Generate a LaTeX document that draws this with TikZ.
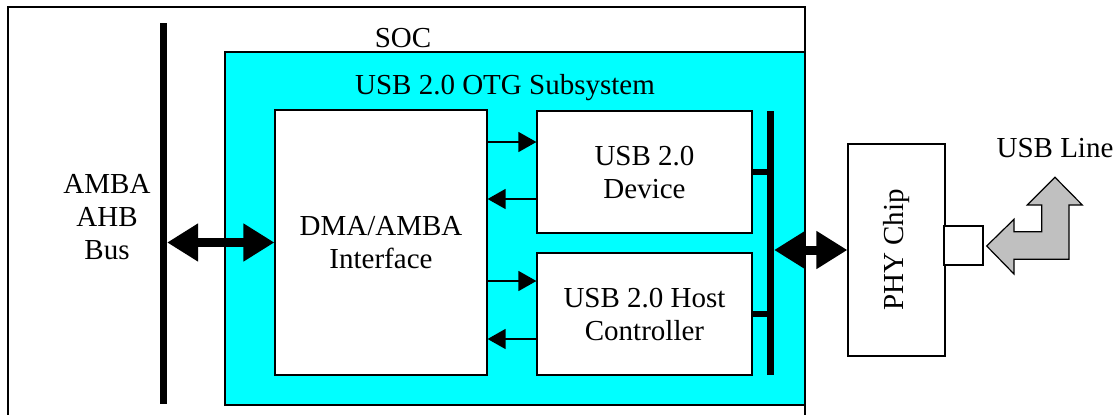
\documentclass[tikz,border=0pt]{standalone}
\usepackage{fontspec}
\setmainfont{Liberation Serif}
\usetikzlibrary{arrows.meta}
\definecolor{otgcyan}{RGB}{0,255,255}
\definecolor{lightgray}{RGB}{192,192,192}

\begin{document}
\begin{tikzpicture}[x=1pt,y=-1pt,line width=1.2pt,
   font=\fontsize{29}{33}\selectfont,
   box/.style={draw,fill=white,inner sep=0pt,align=center},
   bar/.style={fill=black,inner sep=0pt,minimum width=7pt},
   arr/.style={-{Triangle[length=18pt,width=20pt]},line width=1.5pt},
   busarr/.style={{Triangle[length=31pt,width=36pt]}-{Triangle[length=31pt,width=36pt]},line width=9pt}]
   \useasboundingbox (0,0) rectangle (1120,415);
   \draw (8,415) -- (8,7) -- (805,7) -- (805,415);
   \node (soc) at (403,38) {SOC};
   \draw[fill=otgcyan] (225,52) rectangle (805,405);
   \node (otg) at (505,88) {USB 2.0 OTG Subsystem};
   \node (ahbbar) at (163,213.5) [bar,minimum height=381pt] {};
   \node (ahb) at (107,217) [align=center] {AMBA\\AHB\\Bus};
   \node (dma) at (381,242.5) [box,minimum width=212pt,minimum height=265pt] {DMA/AMBA\\Interface};
   \node (dev) at (644.5,172) [box,minimum width=215pt,minimum height=122pt] {USB 2.0\\Device};
   \node (host) at (644.5,314) [box,minimum width=215pt,minimum height=122pt] {USB 2.0 Host\\Controller};
   \node (otgbar) at (770,243) [bar,minimum height=264pt] {};
   \node (phy) at (896.5,250) [box,minimum width=97pt,minimum height=212pt] {\rotatebox{90}{PHY Chip}};
   \node (port) at (963.5,245.5) [box,minimum width=39pt,minimum height=39pt] {};
   \node (line) at (1055,148) {USB Line};
   \draw[busarr] (ahbbar.east |- dma.west) -- (dma.west);
   \draw[busarr] (otgbar.east |- phy.west) -- (phy.west);
   \draw[arr] ([yshift=30pt]dev.west -| dma.east) -- ([yshift=30pt]dev.west);
   \draw[arr] ([yshift=-27pt]dev.west) -- ([yshift=-27pt]dev.west -| dma.east);
   \draw[arr] ([yshift=33pt]host.west -| dma.east) -- ([yshift=33pt]host.west);
   \draw[arr] ([yshift=-25pt]host.west) -- ([yshift=-25pt]host.west -| dma.east);
   \draw[line width=6pt] (dev.east) -- (otgbar.center |- dev.east);
   \draw[line width=6pt] (host.east) -- (otgbar.center |- host.east);
   \draw[fill=lightgray] (986.7,246) -- (1014,219.3) -- (1014,231.7) -- (1041.7,231.7) -- (1041.7,205)
      -- (1027.3,205) -- (1055,177.3) -- (1082.3,205) -- (1069,205) -- (1069,259.3)
      -- (1014,259.3) -- (1014,274) -- cycle;
\end{tikzpicture}
\end{document}
